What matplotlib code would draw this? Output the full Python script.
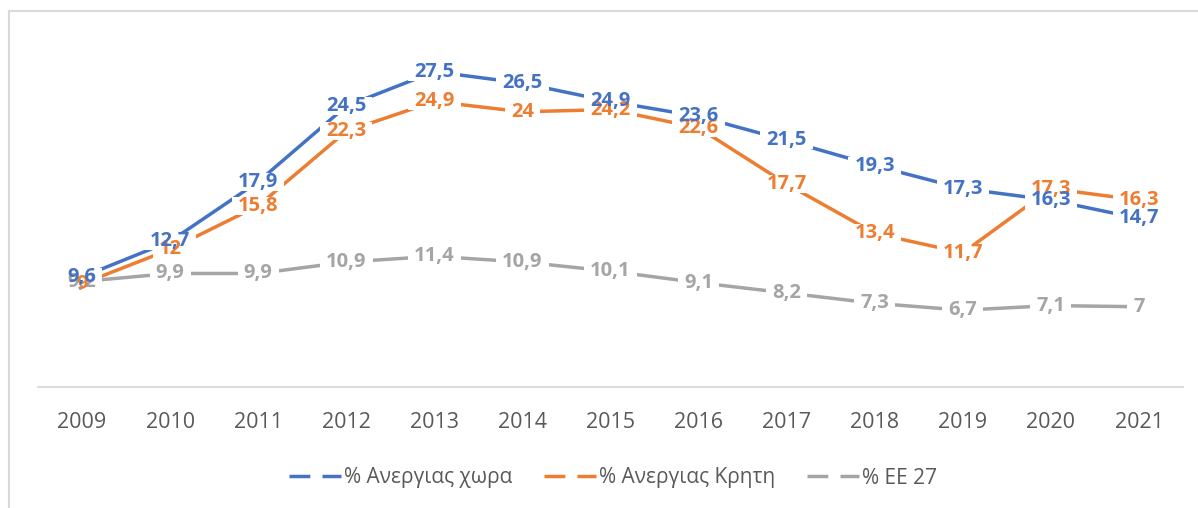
#!/usr/bin/env python3
"""Unemployment rates 2009-2021: Greece, Crete, EU27."""
import matplotlib
matplotlib.use("Agg")
import matplotlib.pyplot as plt
from matplotlib.lines import Line2D
from matplotlib.patches import Rectangle

YEARS = [str(y) for y in range(2009, 2022)]
GREECE = [9.6, 12.7, 17.9, 24.5, 27.5, 26.5, 24.9, 23.6, 21.5, 19.3, 17.3, 16.3, 14.7]
CRETE = [9, 12, 15.8, 22.3, 24.9, 24, 24.2, 22.6, 17.7, 13.4, 11.7, 17.3, 16.3]
EU27 = [9.2, 9.9, 9.9, 10.9, 11.4, 10.9, 10.1, 9.1, 8.2, 7.3, 6.7, 7.1, 7]
NAMES = ["% Ανεργιας χωρα", "% Ανεργιας Κρητη", "% ΕΕ 27"]

# Palette (Office defaults)
BLUE = "#4472C4"
ORANGE = "#ED7D31"
GREY = "#A5A5A5"
TEXT = "#595959"
FRAME = "#D9D9D9"

W, H = 1198, 508

plt.rcParams["font.family"] = ["Open Sans", "DejaVu Sans"]


def fmt(v):
    return f"{v:g}".replace(".", ",")


def main():
    fig = plt.figure(figsize=(W / 100, H / 100), dpi=100)
    ax = fig.add_axes([38 / W, 1 - 387 / H, (1183 - 38) / W, (387 - 43) / H])
    x = list(range(len(YEARS)))

    series = [(GREECE, BLUE), (CRETE, ORANGE), (EU27, GREY)]
    for vals, col in series:
        ax.plot(x, vals, color=col, lw=2.5, solid_capstyle="butt", zorder=2)

    labels = []
    for i, (vals, col) in enumerate(series):
        for xi, v in zip(x, vals):
            labels.append(ax.text(xi, v, fmt(v), ha="center", va="center",
                                  fontsize=14.5, fontweight="bold", color=col,
                                  zorder=6 - i))

    ax.set_xlim(-0.5, len(YEARS) - 0.5)
    ax.set_ylim(0, 30)
    ax.set_xticks(x)
    ax.set_xticklabels(YEARS, fontsize=15.5, color=TEXT)
    ax.tick_params(axis="x", length=0, pad=18)
    ax.set_yticks([])
    for s in ["top", "right", "left"]:
        ax.spines[s].set_visible(False)
    ax.spines["bottom"].set_color(FRAME)
    ax.spines["bottom"].set_linewidth(1.3)

    # white knock-outs so the lines stop short of each label (Excel look)
    fig.canvas.draw()
    inv = ax.transData.inverted()
    for t in labels:
        bb = t.get_window_extent()
        (x0, y0), (x1, y1) = inv.transform([[bb.x0 - 6, bb.y0 + 1],
                                            [bb.x1 + 6, bb.y1 - 1]])
        ax.add_patch(Rectangle((x0, y0), x1 - x0, y1 - y0, fc="white",
                               ec="none", zorder=3))

    handles = [Line2D([], [], color=c, lw=2.5, linestyle=(0, (6.0, 3.5)))
               for c in (BLUE, ORANGE, GREY)]
    fig.legend(handles, NAMES, loc="center", bbox_to_anchor=(613 / W, 1 - 478 / H),
               ncol=3, frameon=False, fontsize=15, handlelength=2.5,
               handletextpad=0.15, columnspacing=1.5, labelcolor=TEXT)

    # outer chart frame (top and left edges visible)
    fig.add_artist(Line2D([9 / W, 1], [1 - 11 / H, 1 - 11 / H], color=FRAME, lw=1.5,
                          transform=fig.transFigure))
    fig.add_artist(Line2D([9 / W, 9 / W], [0, 1 - 11 / H], color=FRAME, lw=1.5,
                          transform=fig.transFigure))

    fig.savefig("out.png", dpi=100)
    plt.close(fig)


if __name__ == "__main__":
    main()
